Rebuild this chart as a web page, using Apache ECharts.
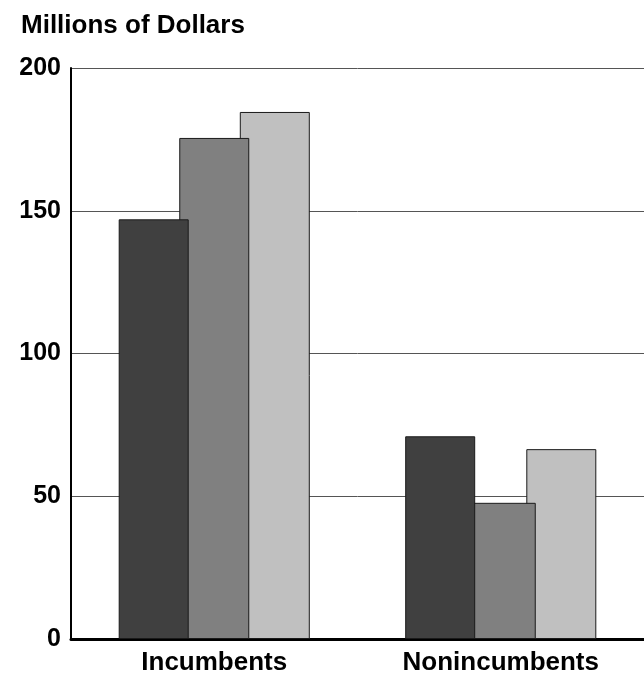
<!DOCTYPE html>
<html><head><meta charset="utf-8">
<script src="https://cdn.jsdelivr.net/npm/echarts@6/dist/echarts.min.js"></script>
<style>html,body{margin:0;padding:0;background:#fff}#c{width:644px;height:677px}</style>
</head><body><div id="c"></div>
<script>
const categories = ['Incumbents', 'Nonincumbents'];
const seriesA = [147, 71];
const seriesB = [175.5, 47.7];
const seriesC = [184.6, 66.5];
const yTicks = [0, 50, 100, 150, 200];

const chart = echarts.init(document.getElementById('c'));
const font = 'Liberation Sans, Arial, sans-serif';
const mk = (data, color, z) => ({
  type: 'bar', data, barWidth: 70, barGap: '-13.5%', z,
  itemStyle: { color, borderColor: '#1a1a1a', borderWidth: 1 }
});
chart.setOption({
  animation: false,
  title: { text: 'Millions of Dollars', left: 16, top: 8,
    textStyle: { fontFamily: font, fontWeight: 'bold', fontSize: 26, color: '#000' } },
  grid: { left: 71, right: 0, top: 68, bottom: 38, containLabel: false },
  xAxis: {
    type: 'category', data: categories,
    axisLine: { lineStyle: { color: '#000', width: 3 } },
    axisTick: { show: false },
    axisLabel: { fontFamily: font, fontWeight: 'bold', fontSize: 26, color: '#000', margin: 11 }
  },
  yAxis: {
    type: 'value', min: 0, max: 200, interval: 50,
    axisLine: { show: true, lineStyle: { color: '#000', width: 2 } },
    axisTick: { show: false },
    splitLine: { lineStyle: { color: '#555', width: 1 } },
    axisLabel: { fontFamily: font, fontWeight: 'bold', fontSize: 25, color: '#000', margin: 10,
      formatter: v => yTicks.includes(v) ? String(v) : '' }
  },
  series: [mk(seriesA, '#404040', 3), mk(seriesB, '#808080', 2), mk(seriesC, '#c0c0c0', 1)]
});
</script></body></html>
